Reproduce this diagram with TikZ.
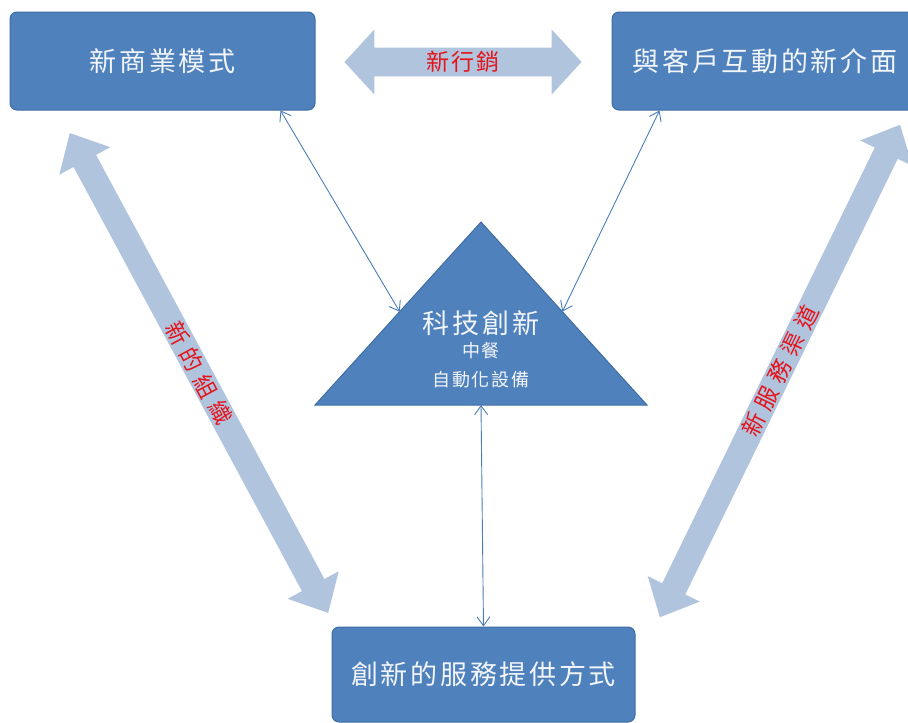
\documentclass[tikz,border=0pt]{standalone}
\usepackage{fontspec}
\newfontfamily\cjk[LetterSpace=10]{Noto Sans CJK TC}
\newfontfamily\cjkwide[LetterSpace=30]{Noto Sans CJK TC}
\usetikzlibrary{shapes.arrows,calc,arrows.meta}
\definecolor{boxblue}{HTML}{4F81BD}
\definecolor{boxedge}{HTML}{3F6DA3}
\definecolor{lightarr}{HTML}{B0C4DE}
\definecolor{labelred}{HTML}{E5141B}
\definecolor{linkblue}{HTML}{4A7EBB}
\definecolor{boxtext}{HTML}{F2F5FA}
\begin{document}
\begin{tikzpicture}[x=1pt,y=1pt,
  box/.style={draw=boxedge, line width=1pt, fill=boxblue, rounded corners=7pt,
    text=boxtext, font=\cjk\fontsize{27}{32}\selectfont, inner sep=0pt},
  bigarrow/.style={double arrow, fill=lightarr, draw=none, text=labelred,
    font=\cjk\fontsize{23}{27}\selectfont, inner sep=1pt},
  widelabel/.style={font=\cjkwide\fontsize{23}{27}\selectfont},
  tritext/.style={text=boxtext, inner sep=0pt},
  link/.style={draw=linkblue, line width=0.9pt,
    {Straight Barb[length=9pt,width=13pt]}-{Straight Barb[length=9pt,width=13pt]}}
]
\useasboundingbox (0,0) rectangle (908,-723);

% big light arrows
\node[bigarrow, minimum height=237, minimum width=65, double arrow head extend=15,
      double arrow tip angle=95] (mkt) at (463,-62) {新行銷};
\node[bigarrow, widelabel, rotate=-61.7, minimum height=545, minimum width=58,
      double arrow head extend=15, double arrow tip angle=85] (org) at (199,-373) {新的組織};
\node[bigarrow, widelabel, rotate=64, minimum height=548, minimum width=58,
      double arrow head extend=15, double arrow tip angle=85] (chan) at (780,-371) {新服務渠道};

% boxes
\node[box, minimum width=305, minimum height=98] (nbm) at (162.5,-61) {新商業模式};
\node[box, minimum width=306, minimum height=98] (cust) at (765,-61) {與客戶互動的新介面};
\node[box, minimum width=303, minimum height=95] (svc) at (483.5,-674.5) {創新的服務提供方式};

% triangle
\coordinate (apex) at (481,-222);
\coordinate (bl) at (315,-405);
\coordinate (br) at (647,-405);
\path[fill=boxblue, draw=boxedge, line width=1pt] (apex) -- (br) -- (bl) -- cycle;
\node[tritext, font=\cjk\fontsize{27}{32}\selectfont] (techA) at (481,-323) {科技創新};
\node[tritext, font=\cjk\fontsize{18}{22}\selectfont] (techB) at (481,-351) {中餐};
\node[tritext, font=\cjk\fontsize{18}{22}\selectfont] (techC) at (481,-380) {自動化設備};

% thin links
\coordinate (nbmout) at ($(nbm.south east)+(-35,0)$);
\coordinate (custout) at ($(cust.south west)+(48,0)$);
\coordinate (triL) at ($(apex)!0.49!(bl)$);
\coordinate (triR) at ($(apex)!0.49!(br)$);
\coordinate (triB) at ($(bl)!0.5!(br)$);
\draw[link] (nbmout) -- (triL);
\draw[link] (custout) -- (triR);
\draw[link] (triB) -- (svc.north);
\end{tikzpicture}
\end{document}
